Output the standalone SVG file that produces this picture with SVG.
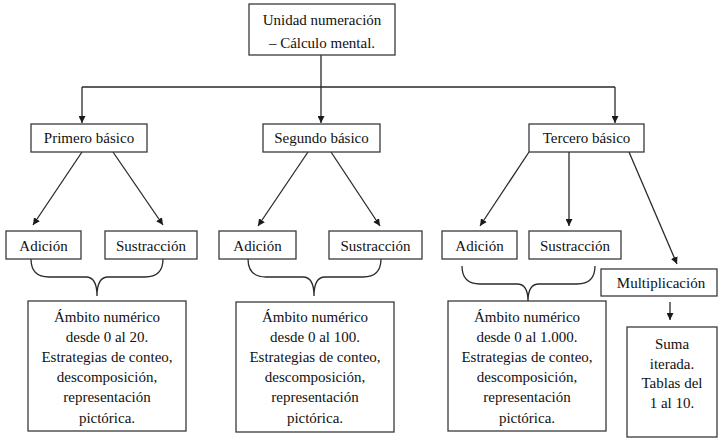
<svg xmlns="http://www.w3.org/2000/svg" width="718" height="438" viewBox="0 0 718 438">
<style>
.box{fill:#fff;stroke:#3a3a3a;stroke-width:1.3}
.ln{fill:none;stroke:#2a2a2a;stroke-width:1.3}
.arr{fill:none;stroke:#2a2a2a;stroke-width:1.3;marker-end:url(#ah)}
text{font-family:"Liberation Serif","Times New Roman",serif;font-size:15px;fill:#111;text-anchor:middle}
</style>
<defs>
<marker id="ah" viewBox="0 0 10 10" refX="10" refY="5" markerWidth="7" markerHeight="7" markerUnits="userSpaceOnUse" orient="auto">
<path d="M0,0 L10,5 L0,10 z" fill="#1a1a1a"/>
</marker>
</defs>
<rect width="718" height="438" fill="#fff"/>
<g id="connectors">
<path class="ln" d="M321,55 V87 M82,87 H615"/>
<path class="arr" d="M82,87 V123"/>
<path class="arr" d="M321,87 V123"/>
<path class="arr" d="M615,87 V123"/>
<path class="arr" d="M82,152 L33,225"/>
<path class="arr" d="M113,152 L163,225"/>
<path class="arr" d="M308,152 L258,226"/>
<path class="arr" d="M331,152 L380,226"/>
<path class="arr" d="M529,152 L480,226"/>
<path class="arr" d="M569,152 V226"/>
<path class="arr" d="M629,152 L677,264"/>
<path class="arr" d="M670,302 V320"/>
<path class="ln" d="M31,259 Q31,277 49,277 L86,277 Q97,277 97,296 Q97,277 108,277 L145,277 Q163,277 163,259"/>
<path class="ln" d="M248,259 Q248,277 266,277 L303,277 Q314,277 314,296 Q314,277 325,277 L363,277 Q381,277 381,259"/>
<path class="ln" d="M462,266 Q462,284 480,284 L517,284 Q528,284 528,301 Q528,284 539,284 L577,284 Q595,284 595,266"/>
</g>
<g id="root">
<rect class="box" x="249" y="4" width="146" height="51"/>
<text x="322" y="25">Unidad numeración</text>
<text x="322" y="48">– Cálculo mental.</text>
</g>
<g id="primero">
<rect class="box" x="31" y="124" width="116" height="28"/>
<text x="89" y="143">Primero básico</text>
</g>
<g id="segundo">
<rect class="box" x="263" y="124" width="117" height="28"/>
<text x="321.5" y="143">Segundo básico</text>
</g>
<g id="tercero">
<rect class="box" x="529" y="124" width="115" height="28"/>
<text x="586.5" y="143">Tercero básico</text>
</g>
<g id="adicion1">
<rect class="box" x="6" y="231" width="75" height="28"/>
<text x="43.5" y="251">Adición</text>
</g>
<g id="sustraccion1">
<rect class="box" x="105" y="231" width="92" height="28"/>
<text x="151" y="251">Sustracción</text>
</g>
<g id="adicion2">
<rect class="box" x="219" y="231" width="77" height="28"/>
<text x="257.5" y="251">Adición</text>
</g>
<g id="sustraccion2">
<rect class="box" x="329" y="231" width="93" height="28"/>
<text x="375.5" y="251">Sustracción</text>
</g>
<g id="adicion3">
<rect class="box" x="442" y="231" width="75" height="28"/>
<text x="479.5" y="251">Adición</text>
</g>
<g id="sustraccion3">
<rect class="box" x="529" y="231" width="92" height="28"/>
<text x="575" y="251">Sustracción</text>
</g>
<g id="multiplicacion">
<rect class="box" x="601" y="269" width="116" height="27"/>
<text x="661" y="288">Multiplicación</text>
</g>
<g id="ambito1">
<rect class="box" x="28" y="301" width="158" height="130"/>
<text x="107" y="322">Ámbito numérico</text>
<text x="107" y="342">desde 0 al 20.</text>
<text x="107" y="362">Estrategias de conteo,</text>
<text x="107" y="382">descomposición,</text>
<text x="107" y="402">representación</text>
<text x="107" y="423">pictórica.</text>
</g>
<g id="ambito2">
<rect class="box" x="236" y="302" width="158" height="130"/>
<text x="315" y="322">Ámbito numérico</text>
<text x="315" y="342">desde 0 al 100.</text>
<text x="315" y="362">Estrategias de conteo,</text>
<text x="315" y="382">descomposición,</text>
<text x="315" y="402">representación</text>
<text x="315" y="423">pictórica.</text>
</g>
<g id="ambito3">
<rect class="box" x="448" y="301" width="158" height="130"/>
<text x="527" y="322">Ámbito numérico</text>
<text x="527" y="342">desde 0 al 1.000.</text>
<text x="527" y="362">Estrategias de conteo,</text>
<text x="527" y="382">descomposición,</text>
<text x="527" y="402">representación</text>
<text x="527" y="423">pictórica.</text>
</g>
<g id="suma">
<rect class="box" x="627" y="327" width="90" height="110"/>
<text x="672" y="349">Suma</text>
<text x="672" y="369">iterada.</text>
<text x="672" y="388">Tablas del</text>
<text x="672" y="408">1 al 10.</text>
</g>
</svg>
